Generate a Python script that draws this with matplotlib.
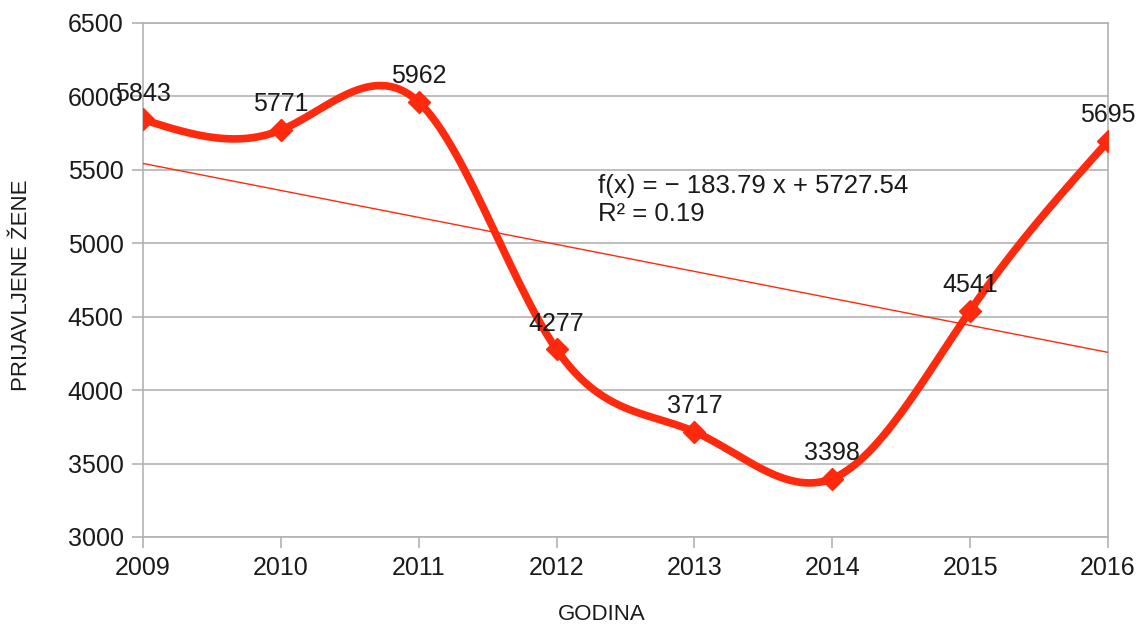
import numpy as np
import matplotlib.pyplot as plt

years = [2009, 2010, 2011, 2012, 2013, 2014, 2015, 2016]
prijavljene = [5843, 5771, 5962, 4277, 3717, 3398, 4541, 5695]
y_ticks = [3000, 3500, 4000, 4500, 5000, 5500, 6000, 6500]

RED = '#ff2a0d'
GRID = '#b3b3b3'
TXT = '#1a1a1a'


def natural_spline(x, y, n=30):
    # natural cubic spline, same idea as LibreOffice "cubic spline" lines
    x = np.asarray(x, float)
    y = np.asarray(y, float)
    k = len(x)
    h = np.diff(x)
    A = np.zeros((k, k))
    b = np.zeros(k)
    A[0, 0] = A[-1, -1] = 1
    for i in range(1, k - 1):
        A[i, i - 1] = h[i - 1]
        A[i, i] = 2 * (h[i - 1] + h[i])
        A[i, i + 1] = h[i]
        b[i] = 6 * ((y[i + 1] - y[i]) / h[i] - (y[i] - y[i - 1]) / h[i - 1])
    M = np.linalg.solve(A, b)
    xs, ys = [], []
    for i in range(k - 1):
        t = np.linspace(x[i], x[i + 1], n, endpoint=(i == k - 2))
        a = x[i + 1] - t
        c = t - x[i]
        s = (M[i] * a**3 + M[i + 1] * c**3) / (6 * h[i]) \
            + (y[i] / h[i] - M[i] * h[i] / 6) * a \
            + (y[i + 1] / h[i] - M[i + 1] * h[i] / 6) * c
        xs.append(t)
        ys.append(s)
    return np.concatenate(xs), np.concatenate(ys)


plt.rcParams['font.family'] = ['Liberation Sans', 'DejaVu Sans']

fig = plt.figure(figsize=(11.41, 6.25), dpi=100)
ax = fig.add_axes([0.1253, 0.1408, 0.8458, 0.8224])

# trend line, fitted on x = 1..8
idx = np.arange(1, len(years) + 1)
slope, intercept = np.polyfit(idx, prijavljene, 1)
fit = slope * idx + intercept
yarr = np.array(prijavljene)
r2 = 1 - np.sum((yarr - fit)**2) / np.sum((yarr - yarr.mean())**2)
ax.plot(years, fit, color=RED, lw=1, zorder=3)

sx, sy = natural_spline(years, prijavljene)
ax.plot(sx, sy, color=RED, lw=5.5, solid_capstyle='round', zorder=4)
ax.plot(years, prijavljene, ls='none', marker='D', ms=11, color=RED, zorder=5)

for xv, yv in zip(years, prijavljene):
    ax.annotate(str(yv), (xv, yv), xytext=(0, 10), textcoords='offset points',
                ha='center', va='bottom', fontsize=18, color=TXT, zorder=6)

ax.text(0.4715, 0.706, 'f(x) = \u2212 %.2f x + %.2f\nR\u00b2 = %.2f' % (-slope, intercept, r2),
        transform=ax.transAxes, fontsize=18.5, color=TXT, va='top', ha='left',
        linespacing=1.2)

ax.set_xlim(2009, 2016)
ax.set_ylim(3000, 6500)
ax.set_xticks(years)
ax.set_yticks(y_ticks)
ax.grid(axis='y', color=GRID, lw=1.2)
ax.set_axisbelow(True)
for sp in ax.spines.values():
    sp.set_color(GRID)
    sp.set_linewidth(1.2)
ax.tick_params(axis='both', colors=GRID, labelcolor=TXT, labelsize=18,
               length=8, width=1.2)
ax.tick_params(axis='y', pad=6)
ax.tick_params(axis='x', pad=6)

fig.text(0.527, 0.016, 'GODINA', fontsize=16, ha='center', va='center', color=TXT)
fig.text(0.019, 0.544, 'PRIJAVLJENE ŽENE', fontsize=16, rotation=90,
         ha='center', va='center', color=TXT)

fig.savefig('out.png', dpi=100)
